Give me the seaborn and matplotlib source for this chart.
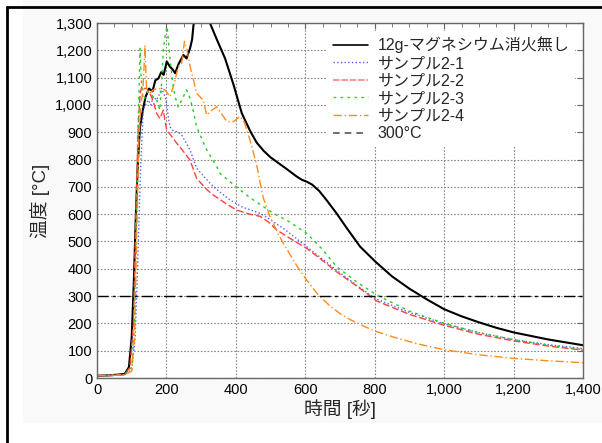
import numpy as np
import matplotlib
matplotlib.use("Agg")
import matplotlib.pyplot as plt
from matplotlib.lines import Line2D
from matplotlib.patches import Rectangle
from matplotlib.ticker import FuncFormatter, MultipleLocator
import seaborn as sns

# ── data ──
t_black = [0, 40, 80, 92, 100, 106, 112, 118, 124, 133, 140, 150, 160, 168, 177, 185, 192,
           201, 210, 218, 225, 235, 249, 258, 268, 274, 278, 285, 300, 315, 326, 345, 369,
           393, 417, 441, 460, 480, 500, 525, 550, 575, 590, 604, 620, 640, 661, 690, 720,
           758, 802, 850, 900, 950, 1000, 1050, 1100, 1150, 1200, 1300, 1400]
y_black = [8, 10, 15, 40, 150, 350, 600, 800, 920, 988, 1030, 1060, 1050, 1090, 1097, 1120, 1110,
           1159, 1140, 1130, 1116, 1150, 1183, 1170, 1207, 1240, 1293, 1320, 1350, 1340, 1298, 1240, 1170,
           1075, 970, 905, 862, 832, 808, 785, 762, 738, 726, 719, 708, 685, 652, 603, 548,
           481, 426, 372, 327, 288, 252, 226, 204, 184, 167, 141, 120]

t_s1 = [0, 40, 80, 100, 110, 118, 125, 133, 140, 148, 155, 162, 172, 180, 186, 193, 199, 205,
        210, 220, 230, 239, 244, 268, 287, 310, 335, 360, 383, 420, 470, 493, 540, 604, 650,
        690, 750, 800, 900, 1002, 1100, 1199, 1300, 1400]
y_s1 = [8, 9, 12, 30, 150, 450, 750, 981, 1000, 1018, 1000, 1030, 1018, 1040, 1061, 1040, 1018, 960,
        920, 905, 902, 896, 890, 835, 768, 735, 701, 675, 652, 625, 603, 585, 545, 481, 435,
        395, 338, 292, 240, 198, 166, 141, 122, 108]

t_s2 = [0, 40, 80, 95, 105, 112, 118, 124, 129, 136, 143, 150, 157, 165, 172, 181, 186, 191,
        196, 201, 215, 230, 250, 268, 287, 316, 335, 370, 402, 440, 470, 495, 518, 560, 604,
        650, 690, 750, 806, 900, 1000, 1100, 1200, 1300, 1400]
y_s2 = [10, 10, 12, 40, 200, 600, 900, 1040, 1068, 1060, 1061, 1045, 1030, 1000, 969, 950, 965, 981,
        940, 908, 885, 859, 828, 798, 731, 690, 670, 640, 615, 600, 592, 570, 542, 508, 475,
        430, 389, 335, 282, 233, 193, 160, 136, 117, 102]

t_s3 = [0, 40, 80, 100, 108, 114, 118, 121, 124, 127, 133, 140, 147, 153, 162, 172, 181, 186,
        191, 196, 202, 206, 210, 218, 225, 234, 245, 258, 268, 278, 287, 297, 316, 345, 354,
        383, 441, 508, 550, 604, 650, 690, 750, 806, 900, 1000, 1100, 1200, 1300, 1400]
y_s3 = [10, 10, 13, 40, 200, 600, 900, 1050, 1207, 1100, 1018, 1030, 1050, 1042, 1030, 1018, 981, 1080,
        1201, 1250, 1287, 1230, 1172, 1080, 1030, 993, 1020, 1055, 1024, 975, 920, 890, 835, 774, 750,
        719, 660, 603, 575, 530, 470, 408, 350, 304, 245, 200, 166, 140, 120, 104]

t_s4 = [0, 40, 80, 100, 108, 114, 120, 126, 132, 136, 138, 140, 143, 150, 162, 177, 196, 210,
        218, 225, 234, 244, 252, 258, 263, 270, 278, 287, 306, 316, 330, 345, 360, 374, 393,
        412, 425, 441, 460, 470, 479, 498, 525, 556, 580, 604, 635, 671, 700, 729, 758, 800,
        854, 920, 1002, 1100, 1199, 1300, 1400]
y_s4 = [8, 9, 12, 25, 150, 500, 850, 1000, 1050, 1150, 1219, 1150, 1055, 1040, 1055, 1061, 1055, 1030,
        1060, 1091, 1140, 1152, 1233, 1210, 1177, 1130, 1091, 1042, 1018, 963, 980, 993, 965, 939, 939,
        958, 935, 870, 780, 715, 660, 592, 520, 452, 402, 359, 308, 264, 236, 214, 196, 172,
        150, 126, 103, 85, 72, 63, 56]

threshold = 300
labels = ["12g-マグネシウム消火無し", "サンプル2-1", "サンプル2-2", "サンプル2-3", "サンプル2-4", "300°C"]
x_ticks = [0, 200, 400, 600, 800, 1000, 1200, 1400]
y_ticks = list(range(0, 1301, 100))

# ── style ──
sns.set_style("white")
plt.rcParams["font.family"] = ["Liberation Sans", "Noto Sans CJK JP", "DejaVu Sans"]

fig = plt.figure(figsize=(6.02, 4.43), dpi=100)
fig.patch.set_facecolor("white")
fig.patches.append(Rectangle((23 / 602, 20 / 443), 1, 1, transform=fig.transFigure,
                             facecolor="#f9f9f9", edgecolor="none", zorder=-10))
fig.add_artist(Line2D([7 / 602, 7 / 602], [0, 1 - 7 / 443], color="black", lw=2,
                      transform=fig.transFigure))
fig.add_artist(Line2D([7 / 602, 1], [1 - 7 / 443, 1 - 7 / 443], color="black", lw=2,
                      transform=fig.transFigure))

ax = fig.add_axes([97 / 602, 1 - 378 / 443, (583 - 97) / 602, (378 - 23) / 443])
ax.set_facecolor("white")

series = [
    (t_black, y_black, "black", "-", 1.5),
    (t_s1, y_s1, "#5a5aff", ":", 1.0),
    (t_s2, y_s2, "#ff4040", (0, (5, 2)), 1.0),
    (t_s3, y_s3, "#22cc22", (0, (2, 3)), 1.0),
    (t_s4, y_s4, "#ff8c1a", (0, (6, 2, 1, 2)), 1.0),
]
for (t, y, c, ls, lw), lab in zip(series, labels):
    sns.lineplot(x=t, y=y, ax=ax, color=c, linestyle=ls, linewidth=lw, label=lab,
                 estimator=None, sort=False, legend=False)

ax.axhline(threshold, color="black", lw=1.0, linestyle=(0, (8, 3, 2, 3)))

ax.set_xlim(0, 1400)
ax.set_ylim(0, 1300)
ax.set_xticks(x_ticks)
ax.set_yticks(y_ticks)
ax.xaxis.set_minor_locator(MultipleLocator(50))
fmt = FuncFormatter(lambda v, p: f"{v:,.0f}")
ax.xaxis.set_major_formatter(fmt)
ax.yaxis.set_major_formatter(fmt)
ax.tick_params(which="both", direction="in", top=True, right=True, colors="#666666",
               labelcolor="black", labelsize=10.5)
ax.tick_params(which="major", length=4)
ax.tick_params(which="minor", length=3)
ax.grid(True, which="major", linestyle=(0, (1.5, 1.5)), color="#888888", linewidth=0.8)
for s in ax.spines.values():
    s.set_color("#666666")
    s.set_linewidth(1.0)

ax.set_xlabel("時間 [秒]", fontsize=13.5, labelpad=2)
ax.set_ylabel("温度 [°C]", fontsize=13.5, labelpad=4)

handles = [
    Line2D([], [], color="black", lw=1.2, linestyle="-"),
    Line2D([], [], color="#5a5aff", lw=1.0, linestyle=":"),
    Line2D([], [], color="#ff8080", lw=1.2, linestyle=(0, (4, 1))),
    Line2D([], [], color="#22dd22", lw=1.0, linestyle=(0, (2, 3))),
    Line2D([], [], color="#ff8c1a", lw=1.0, linestyle=(0, (6, 2, 1, 2))),
    Line2D([], [], color="#555555", lw=1.2, linestyle=(0, (4, 3))),
]
leg = ax.legend(handles, labels, loc="upper right", bbox_to_anchor=(1.0, 1.0),
                fontsize=11.5, frameon=True, facecolor="white", edgecolor="none",
                framealpha=1, handlelength=2.2, handletextpad=0.6, labelspacing=0.16,
                borderpad=0.35, fancybox=False)

plt.savefig("out.png", dpi=100)
